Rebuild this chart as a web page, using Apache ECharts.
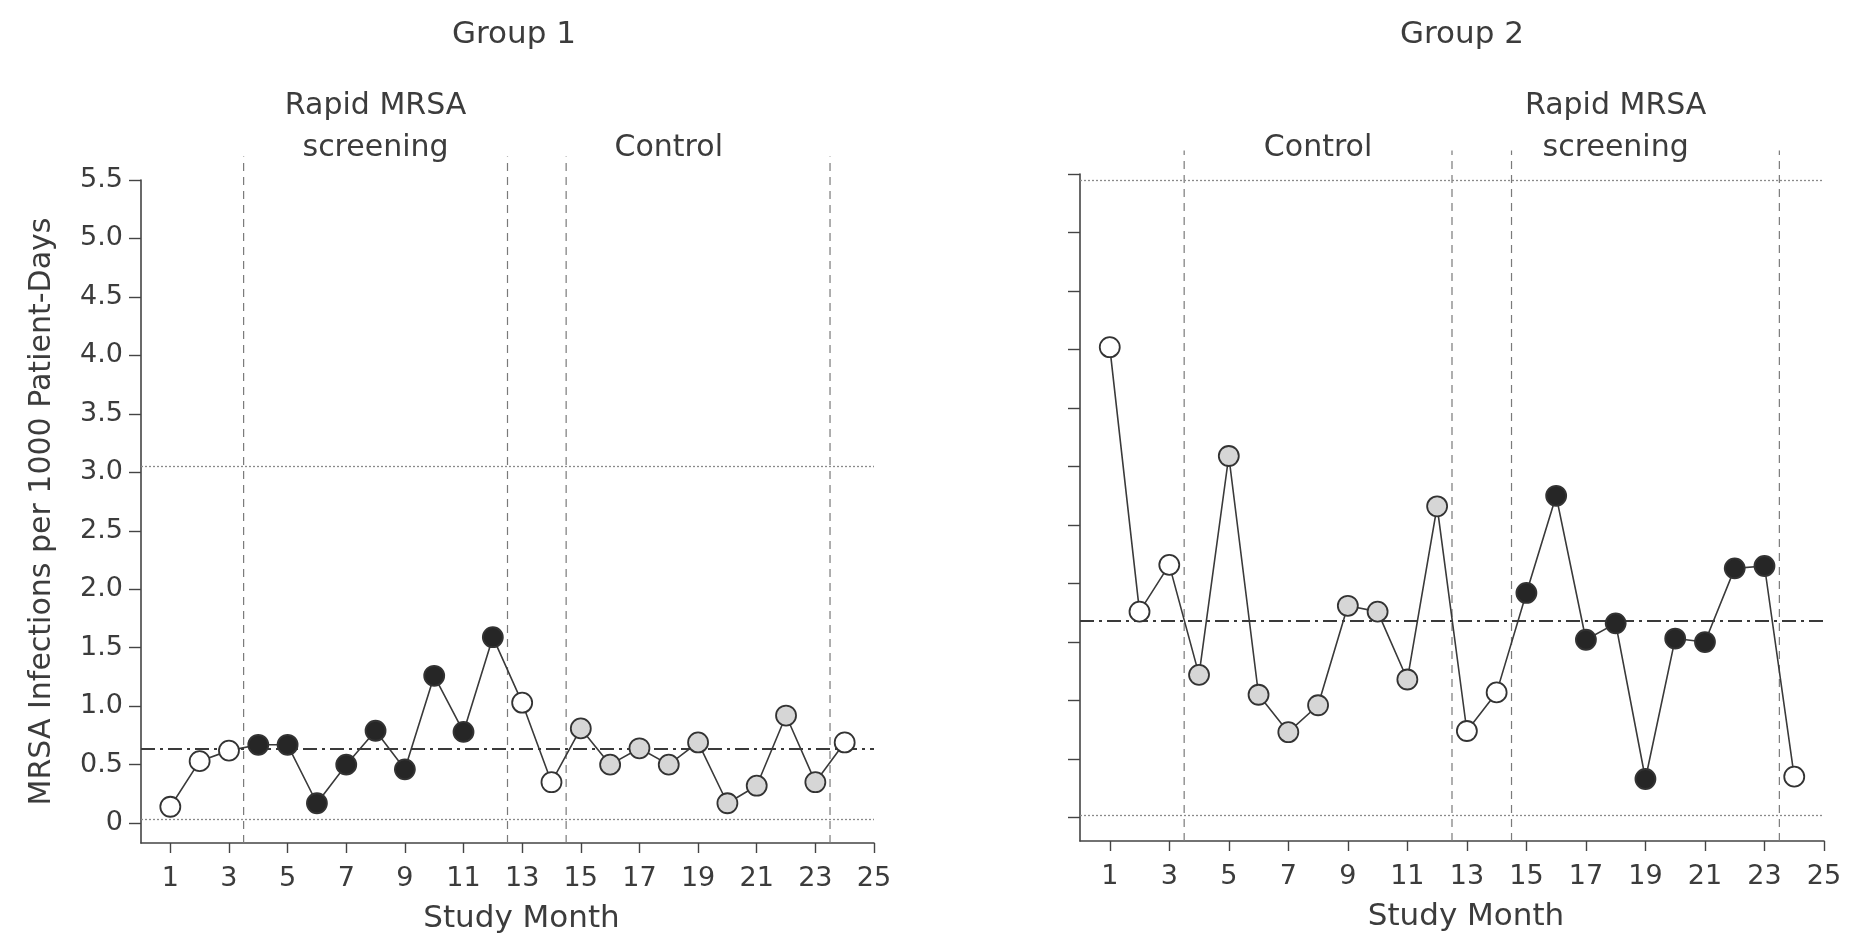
<!DOCTYPE html>
<html><head><meta charset="utf-8">
<script src="https://cdn.jsdelivr.net/npm/echarts@6/dist/echarts.min.js"></script>
<style>html,body{margin:0;padding:0;background:#fff}#c{width:1849px;height:940px}</style>
</head><body><div id="c"></div>
<script>
// ---- data ----
const months = [1,2,3,4,5,6,7,8,9,10,11,12,13,14,15,16,17,18,19,20,21,22,23,24];
const xTickValues = [1,3,5,7,9,11,13,15,17,19,21,23,25];
const yTickValues = [0,0.5,1,1.5,2,2.5,3,3.5,4,4.5,5,5.5];

const group1Values = [0.14,0.53,0.62,0.67,0.67,0.17,0.50,0.79,0.46,1.26,0.78,1.59,1.03,0.35,0.81,0.50,0.64,0.50,0.69,0.17,0.32,0.92,0.35,0.69];
const group1Phase  = ['open','open','open','dark','dark','dark','dark','dark','dark','dark','dark','dark','open','open','light','light','light','light','light','light','light','light','light','open'];
const group2Values = [4.02,1.76,2.16,1.22,3.09,1.05,0.73,0.96,1.81,1.76,1.18,2.66,0.74,1.07,1.92,2.75,1.52,1.66,0.33,1.53,1.50,2.13,2.15,0.35];
const group2Phase  = ['open','open','open','light','light','light','light','light','light','light','light','light','open','open','dark','dark','dark','dark','dark','dark','dark','dark','dark','open'];

const group1Lines = {mean: 0.64, upper: 3.05, lower: 0.03};
const group2Lines = {mean: 1.68, upper: 5.45, lower: 0.02};
const periodBoundaries = [3.5, 12.5, 14.5, 23.5];

const titles = ['Group 1', 'Group 2'];
const group1PeriodText = ['Rapid MRSA\nscreening', 'Control'];
const group2PeriodText = ['Control', 'Rapid MRSA\nscreening'];
const xAxisName = 'Study Month';
const yAxisName = 'MRSA Infections per 1000 Patient-Days';

// ---- styling ----
const FONT = 'DejaVu Sans';
const TXT = '#3c3c3c';
const fills = {open: '#ffffff', light: '#d6d6d6', dark: '#262626'};

function pts(vals, phases) {
  return months.map((m, i) => ({
    value: [m, vals[i]],
    itemStyle: {color: fills[phases[i]], borderColor: '#333', borderWidth: 1.8}
  }));
}

function refLines(lines) {
  return {
    silent: true, symbol: 'none', label: {show: false}, animation: false,
    data: [
      {yAxis: lines.mean, lineStyle: {type: [14, 5, 3, 5], color: '#3a3a3a', width: 1.8}},
      {yAxis: lines.upper, lineStyle: {type: [2, 2], color: '#8a8a8a', width: 1.3}},
      {yAxis: lines.lower, lineStyle: {type: [2, 2], color: '#8a8a8a', width: 1.3}}
    ]
  };
}

function xAxis(gridIndex) {
  return {
    type: 'value', gridIndex: gridIndex, min: 0, max: 25,
    name: xAxisName, nameLocation: 'middle', nameGap: 60,
    nameTextStyle: {fontFamily: FONT, fontSize: 31, color: TXT, padding: [0, 0, 0, 28]},
    axisLine: {show: true, onZero: false, lineStyle: {color: '#444', width: 1.6}},
    axisTick: {show: true, length: 10, customValues: xTickValues, lineStyle: {color: '#444', width: 1.4}},
    axisLabel: {customValues: xTickValues, fontFamily: FONT, fontSize: 27, color: TXT, margin: 22},
    splitLine: {show: false}
  };
}

function yAxis(gridIndex, yMin, withLabels) {
  return {
    type: 'value', gridIndex: gridIndex, min: yMin, max: 5.5,
    name: withLabels ? yAxisName : '', nameLocation: 'middle', nameGap: 84,
    nameTextStyle: {fontFamily: FONT, fontSize: 30, color: TXT},
    axisLine: {show: true, lineStyle: {color: '#444', width: 1.6}},
    axisTick: {show: true, length: 12, customValues: yTickValues, lineStyle: {color: '#444', width: 1.4}},
    axisLabel: {show: withLabels, customValues: yTickValues, fontFamily: FONT, fontSize: 27, color: TXT, margin: 18,
      formatter: v => (Math.abs(v) < 1e-9 ? '0' : v.toFixed(1))},
    splitLine: {show: false}
  };
}

const yMins = [-0.17, -0.2];

const option = {
  animation: false,
  backgroundColor: '#ffffff',
  textStyle: {fontFamily: FONT},
  title: [
    {text: titles[0], left: 509, top: 14, textAlign: 'center', textStyle: {fontFamily: FONT, fontSize: 31, fontWeight: 'normal', color: TXT}},
    {text: titles[1], left: 1457, top: 14, textAlign: 'center', textStyle: {fontFamily: FONT, fontSize: 31, fontWeight: 'normal', color: TXT}}
  ],
  grid: [
    {left: 141, right: 975, top: 180, bottom: 97, containLabel: false},
    {left: 1080, right: 25, top: 174, bottom: 99, containLabel: false}
  ],
  xAxis: [xAxis(0), xAxis(1)],
  yAxis: [yAxis(0, yMins[0], true), yAxis(1, yMins[1], false)],
  series: [
    {
      type: 'line', xAxisIndex: 0, yAxisIndex: 0,
      data: pts(group1Values, group1Phase), symbol: 'circle', symbolSize: 20,
      lineStyle: {color: '#3a3a3a', width: 1.6}, z: 5,
      markLine: refLines(group1Lines)
    },
    {
      type: 'line', xAxisIndex: 1, yAxisIndex: 1,
      data: pts(group2Values, group2Phase), symbol: 'circle', symbolSize: 20,
      lineStyle: {color: '#3a3a3a', width: 1.6}, z: 5,
      markLine: refLines(group2Lines)
    }
  ]
};

const chart = echarts.init(document.getElementById('c'), null, {renderer: 'canvas'});
chart.setOption(option);

// period boundaries and period labels, placed through each grid's axes
const graphics = [];
[group1PeriodText, group2PeriodText].forEach((texts, g) => {
  periodBoundaries.forEach(b => {
    const p0 = chart.convertToPixel({gridIndex: g}, [b, yMins[g]]);
    const p1 = chart.convertToPixel({gridIndex: g}, [b, 5.7]);
    graphics.push({type: 'line', silent: true, z: 1,
      shape: {x1: p0[0], y1: p0[1], x2: p1[0], y2: p1[1]},
      style: {stroke: '#7a7a7a', lineWidth: 1.2, lineDash: [8, 6]}});
  });
  const centers = [8, 18];
  texts.forEach((t, i) => {
    const twoLine = t.indexOf('\n') >= 0;
    const px = chart.convertToPixel({gridIndex: g}, [centers[i], 0])[0];
    const py = chart.convertToPixel({gridIndex: 0}, [0, twoLine ? 5.95 : 5.77])[1];
    graphics.push({type: 'text', silent: true, x: px, y: py,
      style: {text: t, fontFamily: FONT, fontSize: 30, lineHeight: 42, fill: TXT, align: 'center', verticalAlign: 'middle'}});
  });
});
chart.setOption({graphic: graphics});
</script>
</body></html>
